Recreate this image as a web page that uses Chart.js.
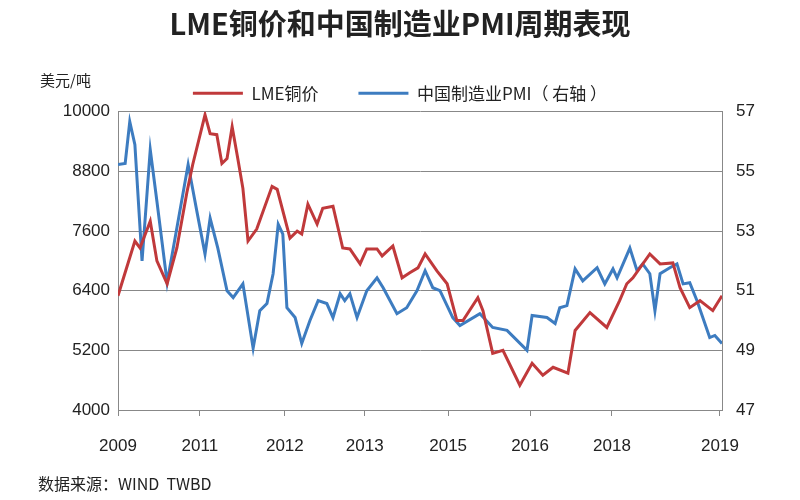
<!DOCTYPE html>
<html><head><meta charset="utf-8">
<script src="https://cdn.jsdelivr.net/npm/chart.js@4"></script>
<style>html,body{margin:0;background:#fff}</style>
</head><body><canvas id="c" width="800" height="500"></canvas>
<script>
const copperMonth=[0,3.3,4.3,6.3,7.6,9.6,11.5,13.5,14.6,17,18,19.3,20.3,21.3,22.3,23.4,24.4,25.4,27.1,30.1,31.1,33.6,35,35.9,37.1,38.9,40,42,43.9,45.3,47.3,48.6,50.6,51.6,53.7,55.5,57,58.6,60,62.3,64.3,66.2,67.4,70.3,71.3,73.2,75.2,78.5,80.9,83,85,87.9,89.3,92.2,95.5,98,99.4,100.6,103.9,105.9,108.4,109.8,111.7,113.7,116.2,118];
const copperValue=[6300,7400,7260,7800,7000,6540,7260,8400,8940,9940,9560,9540,8960,9060,9700,9060,8460,7400,7640,8500,8440,7460,7600,7540,8140,7740,8060,8100,7260,7240,6940,7240,7240,7100,7300,6660,6760,6860,7140,6800,6540,5800,5800,6260,6000,5140,5200,4500,4940,4700,4860,4740,5600,5960,5660,6200,6540,6660,7140,6940,6960,6460,6060,6200,6000,6300];
const pmiMonth=[0,1.4,2.3,3.3,4.7,6.3,7.6,9.6,10.7,13.7,15.4,17,18,19.5,21.3,22.5,24.4,26.4,27.7,29.1,30.3,31.3,32.2,33,34.6,35.9,37.5,39.1,40.8,42,43.4,44.3,45.3,46.7,48.6,50.6,51.8,54.5,56.4,58.4,60,61.5,62.9,65.4,66.8,70.7,73.2,76,79.9,80.9,83.8,85.4,86.3,87.7,89.3,90.8,93.6,95.1,96.7,97.5,100,101.4,102.5,103.9,104.9,105.9,107.8,109.2,110.4,111.7,113.1,115.6,116.6,118];
const pmiValue=[55.23,55.27,56.67,55.9,52.0,55.73,54.0,51.27,52.33,55.23,53.67,52.23,53.43,52.43,51.0,50.77,51.23,49.07,50.33,50.57,51.57,53.23,52.9,50.43,50.1,49.23,50.0,50.67,50.57,50.1,50.9,50.67,50.9,50.1,51.0,51.43,51.1,50.23,50.43,51.0,51.67,51.1,51.0,50.1,49.83,50.23,49.77,49.67,49.0,50.17,50.1,49.9,50.43,50.5,51.73,51.33,51.77,51.23,51.73,51.43,52.43,51.67,51.9,51.57,50.33,51.57,51.77,51.9,51.23,51.27,50.67,49.43,49.5,49.23];
const xTickPos=[0,16,32.6,48.2,64.5,80.5,96.5,117.6];
const xTickLabels=['2009','2011','2012','2013','2015','2016','2018','2019'];
const leftTicks=[4000,5200,6400,7600,8800,10000];
const rightTicks=[47,49,51,53,55,57];
const pts=(xs,ys)=>xs.map((x,i)=>({x,y:ys[i]}));
const font='"Noto Sans CJK SC","Noto Sans",sans-serif';
const extra={id:'extra',afterDraw(ch){const c=ch.ctx;c.save();c.fillStyle='#222';c.font='15px '+font;c.textBaseline='middle';
c.fillText('美元/吨',40,80);c.font='16px '+font;c.fillText('数据来源：WIND  TWBD',38,484);c.restore();}};
new Chart(document.getElementById('c'),{type:'line',
data:{datasets:[
{label:'LME铜价',data:pts(copperMonth,copperValue),borderColor:'#c0393b',backgroundColor:'#c0393b',borderWidth:3,pointRadius:0,yAxisID:'y',tension:0},
{label:'中国制造业PMI（ 右轴 ）',data:pts(pmiMonth,pmiValue),borderColor:'#3d7cc0',backgroundColor:'#3d7cc0',borderWidth:3,pointRadius:0,yAxisID:'y1',tension:0}]},
options:{responsive:false,animation:false,devicePixelRatio:1,
layout:{padding:{top:0,left:0,right:0,bottom:0}},
plugins:{title:{display:true,text:'LME铜价和中国制造业PMI周期表现',color:'#222',font:{family:font,size:29,weight:'bold'},padding:{top:7,bottom:3}},
legend:{labels:{usePointStyle:true,pointStyle:'line',pointStyleWidth:50,color:'#222',font:{family:font,size:17},padding:40},
},tooltip:{enabled:false}},
scales:{
x:{type:'linear',min:0,max:118,afterBuildTicks(a){a.ticks=xTickPos.map(v=>({value:v}));},
ticks:{callback:(v,i)=>xTickLabels[i],color:'#222',font:{family:'Arial, Liberation Sans',size:17},autoSkip:false,maxRotation:0,padding:20},
grid:{display:true,drawOnChartArea:false,tickLength:6,color:'#888'},border:{color:'#888'},afterFit(s){s.height=90;}},
y:{position:'left',min:4000,max:10000,afterBuildTicks(a){a.ticks=leftTicks.map(v=>({value:v}));},
ticks:{callback:v=>String(v),color:'#222',font:{family:'Arial, Liberation Sans',size:17},padding:8},grid:{color:'#888',drawTicks:false},border:{color:'#888'},afterFit(s){s.width=118;}},
y1:{position:'right',min:47,max:57,afterBuildTicks(a){a.ticks=rightTicks.map(v=>({value:v}));},
ticks:{callback:v=>String(v),color:'#222',font:{family:'Arial, Liberation Sans',size:17},padding:14},grid:{drawOnChartArea:false,drawTicks:false},border:{color:'#888'},afterFit(s){s.width=78;}}
}},plugins:[extra]});
</script></body></html>
